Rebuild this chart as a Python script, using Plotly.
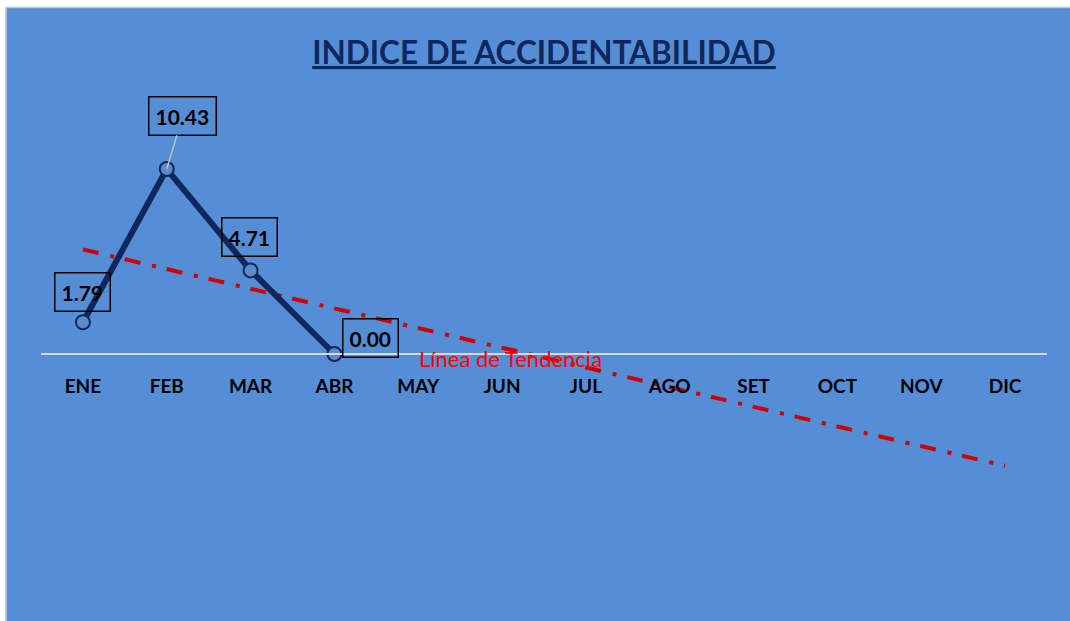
import numpy as np
import plotly.graph_objects as go

months = ["ENE", "FEB", "MAR", "ABR", "MAY", "JUN", "JUL", "AGO", "SET", "OCT", "NOV", "DIC"]
data_months = ["ENE", "FEB", "MAR", "ABR"]
indice = [1.79, 10.43, 4.71, 0.00]
title_text = "INDICE DE ACCIDENTABILIDAD"
trend_label = "Línea de Tendencia"

# linear trend (Excel-style trendline) computed from the data
xi = np.arange(1, len(indice) + 1)
slope, intercept = np.polyfit(xi, indice, 1)
x_all = np.arange(1, len(months) + 1)
trend = slope * x_all + intercept

BG = "#558ED5"
NAVY = "#10275E"
FONT = "Lato"

FW, FH = 1070, 621
L, R, T, B = 41, 23, 106, 55
W = FW - L - R
H = FH - T - B

fig = go.Figure()

fig.add_trace(go.Scatter(
    x=months, y=trend, mode="lines",
    line=dict(color="#CC0000", width=4, dash="16px,12px,4px,11px"),
    hoverinfo="skip", showlegend=False,
))

fig.add_trace(go.Scatter(
    x=data_months, y=indice, mode="lines+markers",
    line=dict(color=NAVY, width=6),
    marker=dict(size=14, color="#5B8CC8", line=dict(color=NAVY, width=2)),
    showlegend=False,
))

# data labels
offsets = [(0, -30), (16, -53), (-1, -33), (36, -16)]
for m, v, (dx, dy) in zip(data_months, indice, offsets):
    common = dict(
        x=m, y=v, xref="x", yref="y",
        text=f"<b>{v:.2f}</b>",
        font=dict(family=FONT, size=21, color="black"),
        bordercolor="black", borderwidth=1.5, borderpad=6,
        bgcolor="rgba(0,0,0,0)",
    )
    if m == "FEB":
        fig.add_annotation(**common, showarrow=True, arrowhead=0,
                           arrowcolor="#BFBFBF", arrowwidth=1.5,
                           ax=dx, ay=dy, standoff=0)
    else:
        fig.add_annotation(**common, showarrow=False, xshift=dx, yshift=-dy)

fig.add_annotation(
    x=5.1, y=-0.23, xref="x", yref="y", text=trend_label, showarrow=False,
    font=dict(family=FONT, size=22, color="#FF0000"),
)

u = 17.74
zero_px = 354
y_top = (zero_px - T) / u
y_bot = -(FH - B - zero_px) / u

fig.add_shape(
    type="rect", xref="paper", yref="paper", layer="below",
    x0=(6 - L) / W, x1=(FW + 5 - L) / W,
    y0=-(B + 10) / H, y1=(H + T - 7.5) / H,
    fillcolor=BG, line=dict(color="#C8C8C8", width=1.5),
)

fig.update_layout(
    width=FW, height=FH,
    margin=dict(l=L, r=R, t=T, b=B),
    paper_bgcolor="white", plot_bgcolor="rgba(0,0,0,0)",
    title=dict(
        text=f"<b><u>{title_text}</u></b>",
        x=0.5, xref="paper", xanchor="center",
        y=1 - 53 / FH, yref="container", yanchor="middle",
        font=dict(family=FONT, size=31.5, color=NAVY),
    ),
    xaxis=dict(
        type="category", categoryorder="array", categoryarray=months,
        range=[-0.5, 11.5],
        anchor="free", position=(FH - B - zero_px) / H,
        showline=True, linecolor="#D9D9D9", linewidth=2,
        showgrid=False, zeroline=False, ticks="",
        tickfont=dict(family=FONT, size=19, color="black", weight="bold"),
        ticklabelstandoff=15,
    ),
    yaxis=dict(
        range=[y_bot, y_top], visible=False, showgrid=False, zeroline=False,
    ),
)

fig.write_html(
    "out.html",
    config={"displayModeBar": False},
    post_script="document.body.style.margin='0';document.body.style.overflow='hidden';",
)
